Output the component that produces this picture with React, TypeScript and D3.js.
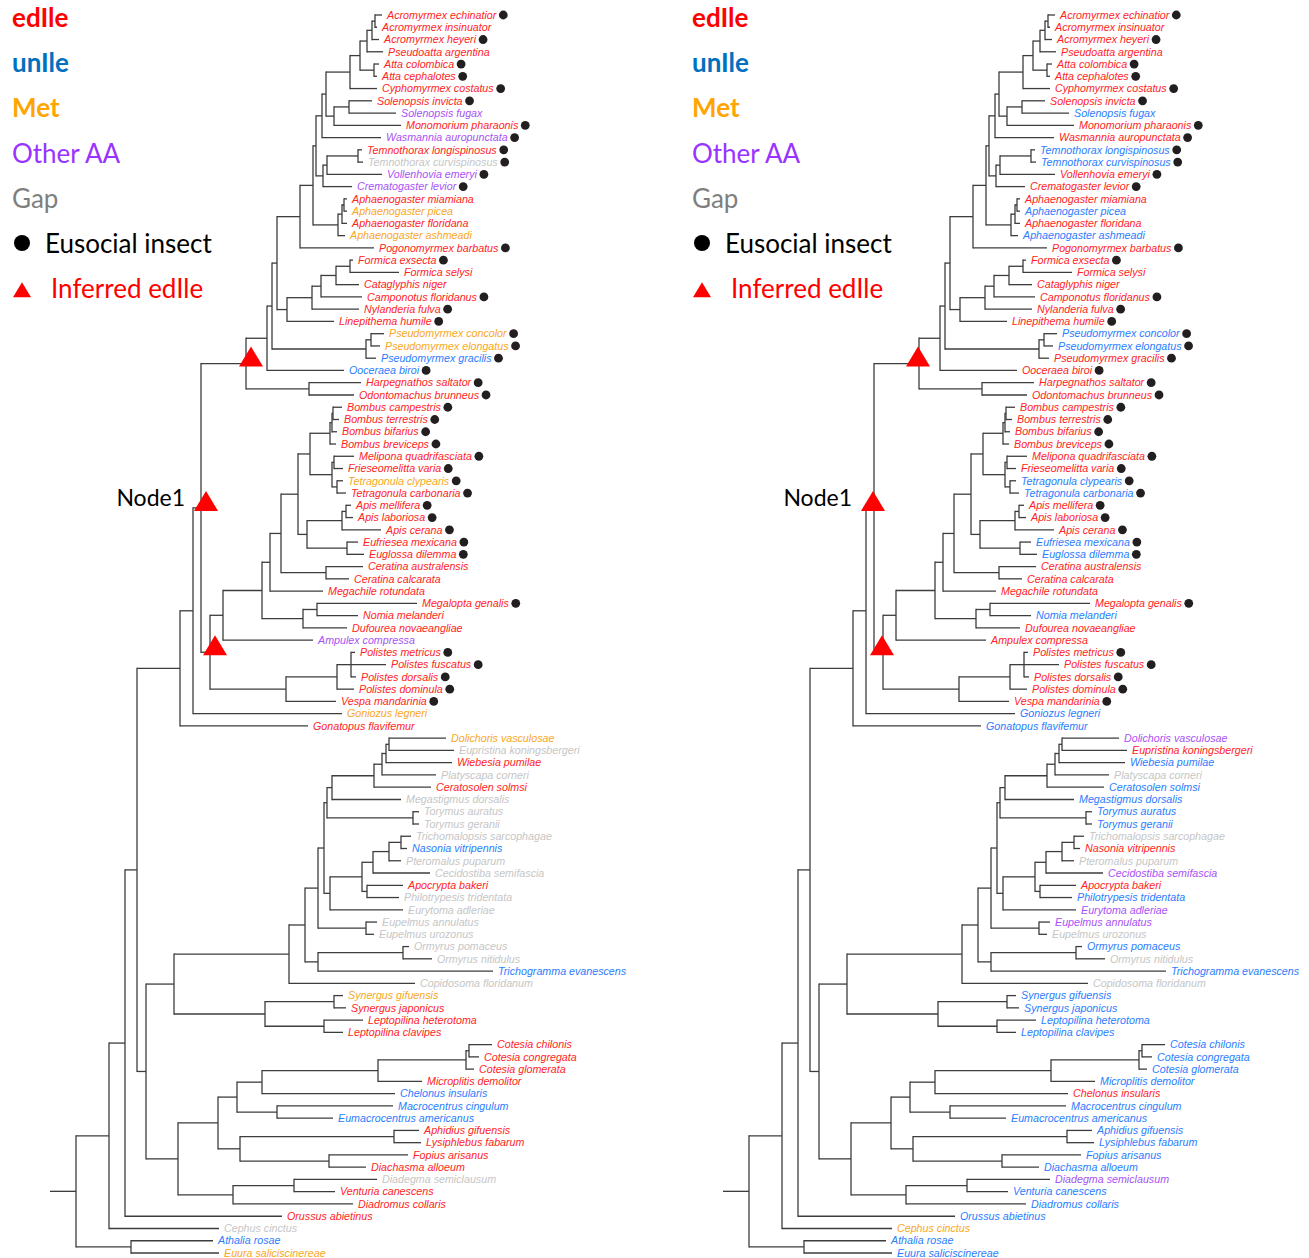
import React, { useMemo } from 'react';
import * as d3 from 'd3';

// ---------- Tree data (Newick; the number after ':' is the node's distance from the root) ----------
const ACRO = "(((Acromyrmex_echinatior:306,Acromyrmex_insinuator:301):299,Acromyrmex_heyeri:303):296,Pseudoatta_argentina:307):291";
const ATTA = "(Atta_colombica:303,Atta_cephalotes:301):298";
const ATTINI = `((${ACRO},${ATTA}):284,Cyphomyrmex_costatus:301):274`;
const SOLMONO = "((Solenopsis_invicta:296,Solenopsis_fugax:320):273,Monomorium_pharaonis:325):258";
const MYRM_A = `((${ATTINI},${SOLMONO}):250,Wasmannia_auropunctata:305):246`;
const MYRM_B = "(((Temnothorax_longispinosus:286,Temnothorax_curvispinosus:287):282,Vollenhovia_emeryi:306):251,Crematogaster_levior:276):247";
const APHAENO = "(((Aphaenogaster_miamiana:271,Aphaenogaster_picea:271):268,Aphaenogaster_floridana:271):266,Aphaenogaster_ashmeadi:269):262";
const MYRMICINAE = `(((${MYRM_A},${MYRM_B}):240,${APHAENO}):237,Pogonomyrmex_barbatus:298):224`;
const FORMICINAE = "(((((Formica_exsecta:277,Formica_selysi:323):274,Cataglyphis_niger:283):260,Camponotus_floridanus:286):245,Nylanderia_fulva:283):236,Linepithema_humile:258):211";
const PSEUDO = "((Pseudomyrmex_concolor:308,Pseudomyrmex_elongatus:304):295,Pseudomyrmex_gracilis:300):290";
const PONER = "(Harpegnathos_saltator:285,Odontomachus_brunneus:278):233";
const FORMICIDAE = `((((${MYRMICINAE},${FORMICINAE}):201,${PSEUDO}):196,Ooceraea_biroi:268):191,${PONER}):170`;

const BOMBUS = "(((Bombus_campestris:266,Bombus_terrestris:263):257,Bombus_bifarius:261):256,Bombus_breviceps:260):254";
const MELIPONINI = "((Melipona_quadrifasciata:278,Frieseomelitta_varia:267):258,(Tetragonula_clypearis:267,Tetragonula_carbonaria:270):261):256";
const APIS = "((Apis_mellifera:275,Apis_laboriosa:277):270,Apis_cerana:305):266";
const EUGLOSSINI = "(Eufriesea_mexicana:282,Euglossa_dilemma:288):271";
const CORBICULATES = `((${BOMBUS},${MELIPONINI}):234,(${APIS},${EUGLOSSINI}):231):222`;
const APIDAE_MEG = `((${CORBICULATES},(Ceratina_australensis:287,Ceratina_calcarata:273):250):205,Megachile_rotundata:247):194`;
const HALICTIDAE = "((Megalopta_genalis:341,Nomia_melanderi:282):241,Dufourea_novaeangliae:271):227";
const APOIDEA_AMP = `((${APIDAE_MEG},${HALICTIDAE}):186,Ampulex_compressa:237):147`;
const VESPIDAE = "(((Polistes_metricus:279,Polistes_fuscatus:310,Polistes_dorsalis:280):275,Polistes_dominula:278):261,Vespa_mandarinia:260):210";
const ACULEATA = `(((${FORMICIDAE},(${APOIDEA_AMP},${VESPIDAE}):134):125,Goniozus_legneri:266):117,Gonatopus_flavifemur:232):104`;

const FIGS = "(((((Dolichoris_vasculosae:370,Eupristina_koningsbergeri:378):313,Wiebesia_pumilae:376):310,Platyscapa_corneri:360):306,Ceratosolen_solmsi:355):298,Megastigmus_dorsalis:325):256";
const TORYMUS = "(Torymus_auratus:343,Torymus_geranii:343):337";
const PTEROM = "(((Trichomalopsis_sarcophagae:335,Nasonia_vitripennis:331):325,Pteromalus_puparum:325):313,Cecidostiba_semifascia:354):297";
const FIGPAR = "(Apocrypta_bakeri:327,Philotrypesis_tridentata:323):291";
const EUPELMUS = "(Eupelmus_annulatus:301,Eupelmus_urozonus:298):290";
const ORMYRUS = "((Ormyrus_pomaceus:333,Ormyrus_nitidulus:356):327,Trichogramma_evanescens:417):242";
const CHALCIDOIDEA = `(((((${FIGS},${TORYMUS}):251,((${PTEROM},${FIGPAR}):286,Eurytoma_adleriae:327):254):248,${EUPELMUS}):242,${ORMYRUS}):229,Copidosoma_floridanum:339):213`;
const CYNIPOIDEA = "((Synergus_gifuensis:267,Synergus_japonicus:270):258,(Leptopilina_heterotoma:287,Leptopilina_clavipes:267):248):189";
const MICROGAST = "((((Cotesia_chilonis:416,Cotesia_congregata:403):393,Cotesia_glomerata:398):390,Microplitis_demolitor:346):302,Chelonus_insularis:319):186";
const BRACONIDAE = `((${MICROGAST},(Macrocentrus_cingulum:317,Eumacrocentrus_americanus:257):201):161,((Aphidius_gifuensis:343,Lysiphlebus_fabarum:345):318,(Fopius_arisanus:332,Diachasma_alloeum:290):253):164):142`;
const ICHNEUMONIDAE = "((Diadegma_semiclausum:301,Venturia_canescens:259):218,Diadromus_collaris:277):157";

const NEWICK = `((((${ACULEATA},((${CHALCIDOIDEA},${CYNIPOIDEA}):98,(${BRACONIDAE},${ICHNEUMONIDAE}):102):70):61,Orussus_abietinus:206):49,Cephus_cinctus:143):33,(Athalia_rosae:137,Euura_saliciscinereae:143):55):0;`;

// Leaf colour codes (tree order). R=edIle, B=unIle, O=Met, P=Other AA, G=Gap
const LEFT_CODES =
  "RRRRRRRRPR" + "PRGPPROROR" + "RRRRRROOBB" + "RRRRRRRROR" + "RRRRRRRRRR" +
  "RPRRRRRORO" + "GRGRGGGGBG" + "GRGGGGGGBG" + "ORRRRRRRBB" + "BRRRRGRRRG" + "BO";
const RIGHT_CODES =
  "RRRRRRRRBR" + "RBBRRRBRBR" + "RRRRRRBBRR" + "RRRRRRRRBB" + "RRRBBRRRRB" +
  "RRRRRRRBBP" + "RBGBBBBGRG" + "PRBPPGBGBG" + "BBBBBBBBRB" + "BBBBBPBBBO" + "BB";

const LABEL_COLORS: Record<string, string> = {
  R: '#ff2424', B: '#2a7dff', O: '#f8a722', P: '#a852f5', G: '#c6c6c6',
};

const EUSOCIAL = [
  'Acromyrmex echinatior', 'Acromyrmex heyeri', 'Atta colombica', 'Atta cephalotes', 'Cyphomyrmex costatus',
  'Solenopsis invicta', 'Monomorium pharaonis', 'Wasmannia auropunctata', 'Temnothorax longispinosus',
  'Temnothorax curvispinosus', 'Vollenhovia emeryi', 'Crematogaster levior', 'Pogonomyrmex barbatus',
  'Formica exsecta', 'Camponotus floridanus', 'Nylanderia fulva', 'Linepithema humile',
  'Pseudomyrmex concolor', 'Pseudomyrmex elongatus', 'Pseudomyrmex gracilis', 'Ooceraea biroi',
  'Harpegnathos saltator', 'Odontomachus brunneus', 'Bombus campestris', 'Bombus terrestris',
  'Bombus bifarius', 'Bombus breviceps', 'Melipona quadrifasciata', 'Frieseomelitta varia',
  'Tetragonula clypearis', 'Tetragonula carbonaria', 'Apis mellifera', 'Apis laboriosa', 'Apis cerana',
  'Eufriesea mexicana', 'Euglossa dilemma', 'Megalopta genalis', 'Polistes metricus', 'Polistes fuscatus',
  'Polistes dorsalis', 'Polistes dominula', 'Vespa mandarinia',
];

// Inferred edIle nodes, each given as the MRCA of two leaves, with optional label
const INFERRED: [string, string, string][] = [
  ['Acromyrmex echinatior', 'Odontomachus brunneus', ''],
  ['Acromyrmex echinatior', 'Vespa mandarinia', 'Node1'],
  ['Bombus campestris', 'Vespa mandarinia', ''],
];

const LEGEND_TEXT = ['edIle', 'unIle', 'Met', 'Other AA', 'Gap'];
const LEGEND_COLORS = ['#ff0000', '#0070c0', '#ffa500', '#9933ff', '#7f7f7f'];
const LEGEND_BOLD = [true, true, true, false, false];

const PANELS = [
  { codes: LEFT_CODES, dx: 0, legendX: 12, triShift: 5 },
  { codes: RIGHT_CODES, dx: 673, legendX: 692, triShift: -1 },
];

// ---------- helpers ----------
type RawNode = { name: string; depth: number; children: RawNode[] };

function parseNewick(s: string): RawNode {
  let i = 0;
  function node(): RawNode {
    const n: RawNode = { name: '', depth: 0, children: [] };
    if (s[i] === '(') {
      i++;
      n.children.push(node());
      while (s[i] === ',') { i++; n.children.push(node()); }
      i++; // ')'
    }
    let name = '';
    while (i < s.length && !':,();'.includes(s[i])) name += s[i++];
    n.name = name.replace(/_/g, ' ');
    if (s[i] === ':') {
      i++;
      let num = '';
      while (i < s.length && /[0-9.\-]/.test(s[i])) num += s[i++];
      n.depth = +num;
    }
    return n;
  }
  return node();
}

const LABEL_FONT = 'italic 10.7px "Liberation Sans", Arial, sans-serif';

export default function App() {
  const layout = useMemo(() => {
    const data = parseNewick(NEWICK);
    const root: any = d3.hierarchy<RawNode>(data, d => (d.children.length ? d.children : null));
    const leaves: any[] = root.leaves();
    const yScale = d3.scaleLinear().domain([0, leaves.length - 1]).range([15, 1253]);
    const xScale = d3.scaleLinear().domain([0, 420]).range([76, 496]);
    leaves.forEach((l, i) => { l.py = yScale(i); l.idx = i; });
    root.eachAfter((n: any) => {
      if (n.children) n.py = (n.children[0].py + n.children[n.children.length - 1].py) / 2;
      n.px = xScale(n.data.depth);
    });
    const canvas = document.createElement('canvas');
    const ctx = canvas.getContext('2d')!;
    ctx.font = LABEL_FONT;
    leaves.forEach(l => { l.tw = ctx.measureText(l.data.name).width; });

    const byName = new Map<string, any>();
    leaves.forEach(l => byName.set(l.data.name, l));
    const mrca = (a: string, b: string) => {
      const anc = new Set(byName.get(b).ancestors());
      return byName.get(a).ancestors().find((n: any) => anc.has(n));
    };
    const inferred = INFERRED.map(([a, b, label]) => ({ node: mrca(a, b), label }));
    const nodes: any[] = root.descendants();
    return { root, leaves, nodes, inferred };
  }, []);

  const eus = new Set(EUSOCIAL);
  const { root, leaves, nodes, inferred } = layout;
  const lineColor = '#3d3d3d';

  return (
    <svg width={1309} height={1258} style={{ position: 'absolute', left: 0, top: 0, background: '#fff' }}>
      {PANELS.map((p, pi) => (
        <g key={pi}>
          {/* legend */}
          <g fontFamily="Lato, 'Open Sans', sans-serif" fontSize={26}>
            {LEGEND_TEXT.map((t, i) => (
              <text key={t} x={p.legendX} y={27 + i * 45.2} fill={LEGEND_COLORS[i]}
                fontWeight={LEGEND_BOLD[i] ? 700 : 400}>{t}</text>
            ))}
            <circle cx={p.legendX + 10} cy={27 + 5 * 45.2 - 10} r={8} fill="#000" />
            <text x={p.legendX + 33} y={27 + 5 * 45.2} fill="#000">Eusocial insect</text>
            <path d={`M${p.legendX + 1},${27 + 6 * 45.2 - 1} L${p.legendX + 19},${27 + 6 * 45.2 - 1} L${p.legendX + 10},${27 + 6 * 45.2 - 16} Z`} fill="#ff0000" />
            <text x={p.legendX + 39} y={27 + 6 * 45.2} fill="#ff0000">Inferred edIle</text>
          </g>

          <g transform={`translate(${p.dx},0)`}>
            {/* root stub */}
            <line x1={root.px - 26} x2={root.px} y1={root.py} y2={root.py} stroke={lineColor} strokeWidth={1.3} />
            {nodes.map((n: any, i: number) => (
              <g key={i}>
                {n.parent && (
                  <line x1={n.parent.px} x2={n.px} y1={n.py} y2={n.py} stroke={lineColor} strokeWidth={1.3} />
                )}
                {n.children && (
                  <line x1={n.px} x2={n.px} y1={n.children[0].py} y2={n.children[n.children.length - 1].py}
                    stroke={lineColor} strokeWidth={1.3} strokeLinecap="square" />
                )}
              </g>
            ))}
            {leaves.map((l: any) => (
              <g key={l.data.name}>
                <text x={l.px + 5} y={l.py} dy="0.35em" fontStyle="italic" fontSize={10.7}
                  fontFamily='"Liberation Sans", Arial, sans-serif'
                  fill={LABEL_COLORS[p.codes[l.idx]]}>{l.data.name}</text>
                {eus.has(l.data.name) && (
                  <circle cx={l.px + 5 + l.tw + 7} cy={l.py} r={4.4} fill="#231f20" />
                )}
              </g>
            ))}
            {inferred.map((d: any, i: number) => {
              const cx = d.node.px + p.triShift;
              const by = d.node.py + 3;
              return (
                <g key={i}>
                  <path d={`M${cx - 12},${by} L${cx + 12},${by} L${cx},${by - 20} Z`} fill="#ff0000" />
                  {d.label && (
                    <text x={cx - 21} y={by - 5} textAnchor="end" fontSize={23}
                      fontFamily="Lato, 'Open Sans', sans-serif" fill="#000">{d.label}</text>
                  )}
                </g>
              );
            })}
          </g>
        </g>
      ))}
    </svg>
  );
}
